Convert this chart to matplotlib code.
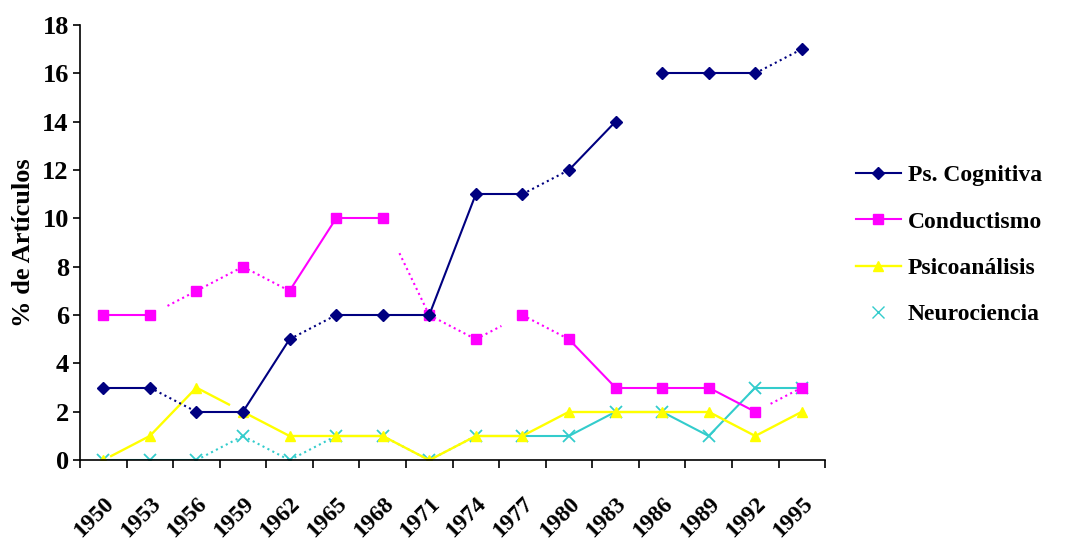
import matplotlib.pyplot as plt
import numpy as np

years = [1950, 1953, 1956, 1959, 1962, 1965, 1968, 1971,
         1974, 1977, 1980, 1983, 1986, 1989, 1992, 1995]

cognitiva = [3, 3, 2, 2, 5, 6, 6, 6, 11, 11, 12, 14, 16, 16, 16, 17]
conductismo = [6, 6, 7, 8, 7, 10, 10, 6, 5, 6, 5, 3, 3, 3, 2, 3]
psicoanalisis = [0, 1, 3, 2, 1, 1, 1, 0, 1, 1, 2, 2, 2, 2, 1, 2]
neurociencia = [0, 0, 0, 1, 0, 1, 1, 0, 1, 1, 1, 2, 2, 1, 3, 3]

# segment look of the scanned original: (linestyle, start fraction, end fraction)
S, D = "-", ":"
cog_segs = [(S, 0, 1), (D, 0, 1), (S, 0, 1), (S, 0, 1), (D, 0, 1), (S, 0, 1),
            (S, 0, 1), (S, 0, 1), (S, 0, 1), (D, 0, 1), (S, 0, 1), None,
            (S, 0, 1), (S, 0, 1), (D, 0, 1)]
cond_segs = [(S, 0, 1), (D, 0.38, 1), (D, 0, 1), (D, 0, 1), (S, 0, 1), (S, 0, 1),
             (D, 0.36, 1), (D, 0, 1), (D, 0, 0.55), (D, 0, 1), (S, 0, 1),
             (S, 0, 1), (S, 0, 1), (S, 0, 1), (D, 0.33, 1)]
psi_segs = [(S, 0.17, 1), (S, 0, 1), (S, 0, 0.7), (S, 0, 1), (S, 0, 1), (S, 0, 1),
            (S, 0, 1), (S, 0, 1), (S, 0, 1), (S, 0, 1), (S, 0, 1), (S, 0, 1),
            (S, 0, 1), (S, 0, 1), (S, 0, 1)]
neu_segs = [(S, 0, 1), (S, 0, 1), (D, 0, 1), (D, 0, 1), (D, 0, 1), (S, 0, 1),
            (D, 0, 1), (D, 0, 1), (S, 0, 1), (S, 0, 1), (S, 0, 1), (S, 0, 1),
            (S, 0, 1), (S, 0, 1), (S, 0, 1)]

series = [
    ("Ps. Cognitiva", cognitiva, cog_segs, "#000080", "D", 6.5, 1.5),
    ("Conductismo", conductismo, cond_segs, "#FF00FF", "s", 6.5, 1.5),
    ("Psicoanálisis", psicoanalisis, psi_segs, "#FFFF00", "^", 7.5, 1.7),
    ("Neurociencia", neurociencia, neu_segs, "#33CCCC", "x", 8.5, 1.5),
]

plt.rcParams["font.family"] = ["Liberation Serif", "DejaVu Serif"]

fig = plt.figure(figsize=(10.66, 5.42), dpi=100)
ax = fig.add_axes([0.075, 0.151, 0.699, 0.803])

x = np.arange(len(years))
handles = []
for name, vals, segs, color, marker, ms, lw in reversed(series):
    for i, seg in enumerate(segs):
        if seg is None:
            continue
        style, f0, f1 = seg
        x0 = x[i] + f0
        x1 = x[i] + f1
        y0 = vals[i] + (vals[i + 1] - vals[i]) * f0
        y1 = vals[i] + (vals[i + 1] - vals[i]) * f1
        ax.plot([x0, x1], [y0, y1], color=color, linestyle=style, linewidth=lw)
    mew = 1.3 if marker == "x" else 1
    ax.plot(x, vals, linestyle="none", marker=marker, markersize=ms,
            color=color, markeredgewidth=mew)

for name, vals, segs, color, marker, ms, lw in series:
    ls = "none" if marker == "x" else "-"
    h, = ax.plot([], [], color=color, marker=marker, markersize=ms,
                 linestyle=ls, linewidth=lw, label=name)
    handles.append(h)

ax.set_xlim(-0.5, len(years) - 0.5)
ax.set_ylim(0, 18)
ax.set_yticks(range(0, 19, 2))
ax.set_xticks(x)
ax.set_xticklabels(years, rotation=45, ha="right", rotation_mode="anchor",
                   fontsize=17, fontweight="bold")
ax.set_xticks(np.arange(-0.5, len(years), 1), minor=True)
ax.tick_params(axis="x", which="major", length=0, pad=24)
ax.tick_params(axis="x", which="minor", length=6, width=1.2, direction="out")
ax.tick_params(axis="y", length=5, width=1.2, direction="out", labelsize=19,
               pad=3)
for lab in ax.get_yticklabels():
    lab.set_fontweight("bold")

ax.spines["top"].set_visible(False)
ax.spines["right"].set_visible(False)
ax.spines["left"].set_linewidth(1.2)
ax.spines["bottom"].set_linewidth(1.2)

ax.set_ylabel("% de Artículos", fontsize=19, fontweight="bold", labelpad=5)

leg = fig.legend(handles=handles, loc="center left",
                 bbox_to_anchor=(0.783, 0.548), frameon=False,
                 prop={"size": 17, "weight": "bold"}, handlelength=1.9,
                 labelspacing=1.05, handletextpad=0.3)

fig.savefig("out.png", dpi=100)
